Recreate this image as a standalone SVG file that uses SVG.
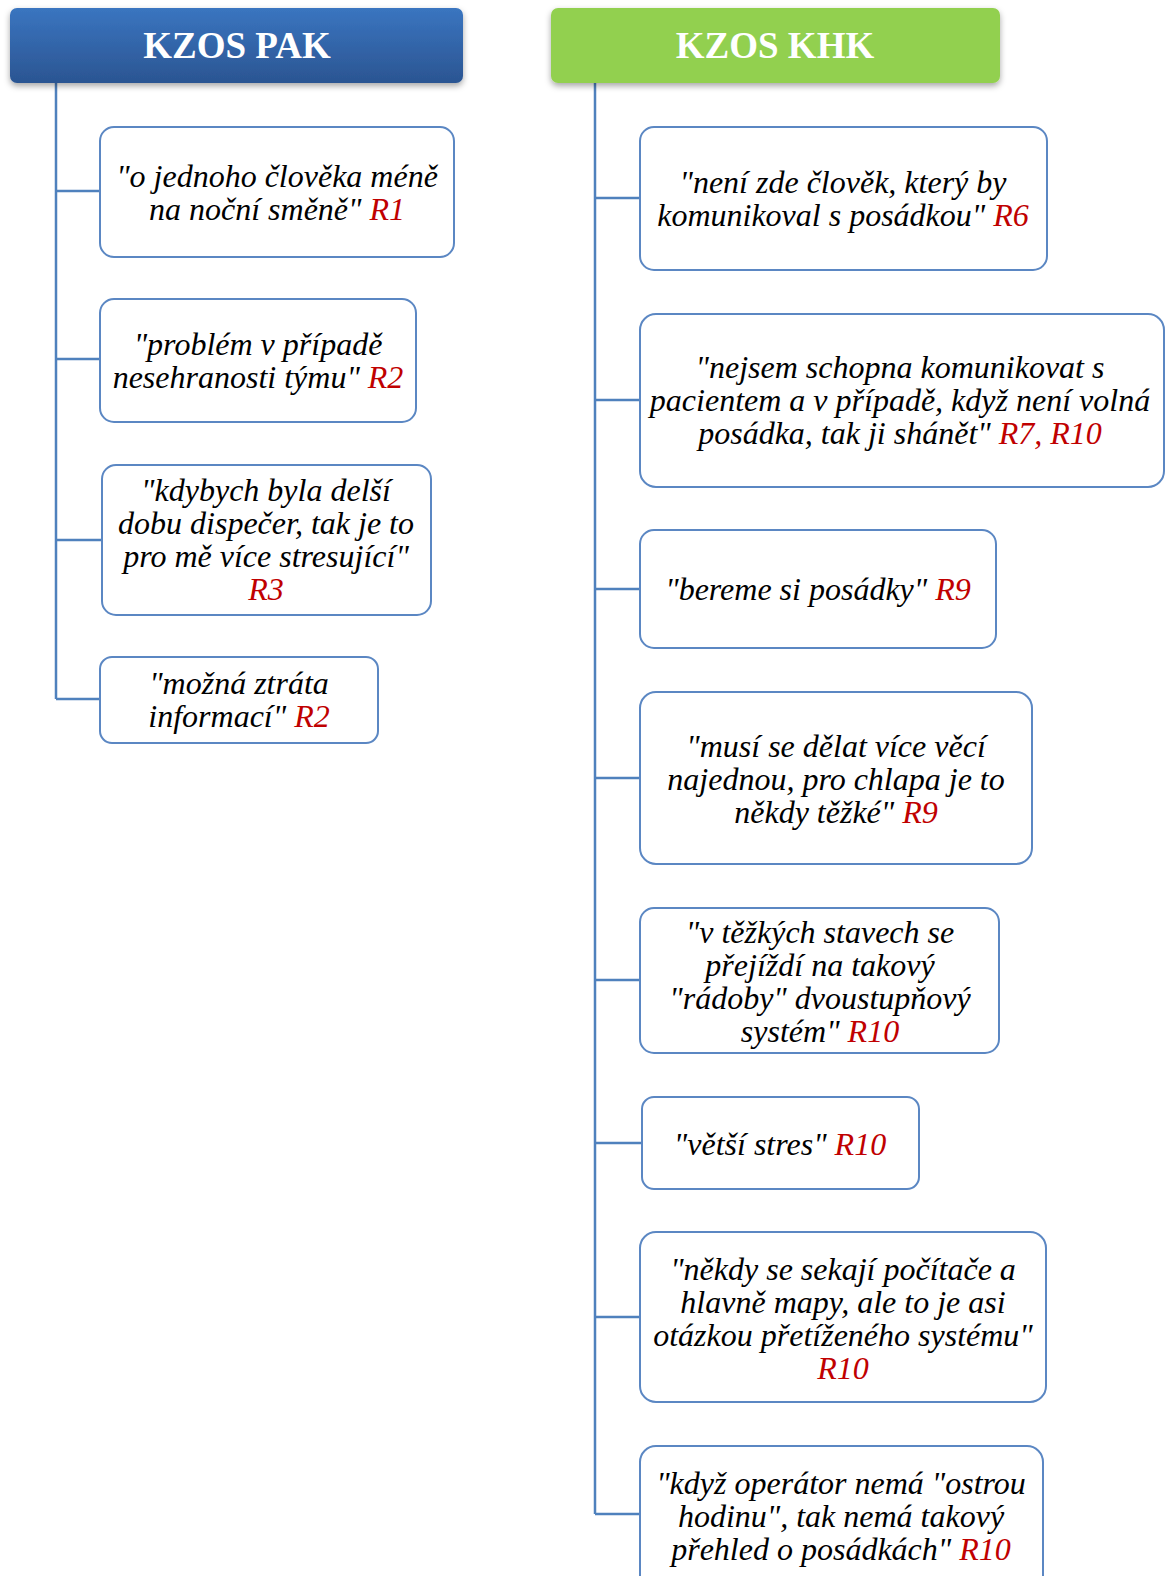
<svg xmlns="http://www.w3.org/2000/svg" width="1171" height="1576" viewBox="0 0 1171 1576">
<defs>
<linearGradient id="gBlue" x1="0" y1="0" x2="0" y2="1">
<stop offset="0" stop-color="#3a75c0"/>
<stop offset="1" stop-color="#2b5592"/>
</linearGradient>
<filter id="sh" x="-5%" y="-20%" width="110%" height="150%">
<feDropShadow dx="0" dy="3" stdDeviation="3" flood-color="#000" flood-opacity="0.35"/>
</filter>
</defs>
<style>
.hdr{font-family:"Liberation Serif","Times New Roman",serif;font-weight:bold;font-size:37px;fill:#fff;text-anchor:middle}
.box{fill:#fff;stroke:#5b87c3;stroke-width:2}
.t{font-family:"Liberation Serif","Times New Roman",serif;font-style:italic;font-size:32px;fill:#000;text-anchor:middle}
.r{fill:#c00000}
.con{fill:none;stroke:#4f81bd;stroke-width:2.5}
</style>
<rect width="1171" height="1576" fill="#fff"/>
<g id="connectors">
<path class="con" d="M56 83V699M56 191H100M56 359H100M56 540H102M56 699H100"/>
<path class="con" d="M595 83V1514M595 198H640M595 400H640M595 589H640M595 778H640M595 980H640M595 1143H642M595 1317H640M595 1514H640"/>
</g>
<g id="hdr-pak">
<rect x="10" y="8" width="453" height="75" rx="7" fill="url(#gBlue)" filter="url(#sh)"/>
<text class="hdr" x="237" y="58">KZOS PAK</text>
</g>
<g id="hdr-khk">
<rect x="551" y="8" width="449" height="75" rx="7" fill="#92d050" filter="url(#sh)"/>
<text class="hdr" x="775" y="58">KZOS KHK</text>
</g>
<g id="l1">
<rect class="box" x="100" y="127" width="354" height="130" rx="14"/>
<text class="t" x="277" y="187">"o jednoho člověka méně</text>
<text class="t" x="277" y="220">na noční směně" <tspan class="r">R1</tspan></text>
</g>
<g id="l2">
<rect class="box" x="100" y="299" width="316" height="123" rx="14"/>
<text class="t" x="258" y="355">"problém v případě</text>
<text class="t" x="258" y="388">nesehranosti týmu" <tspan class="r">R2</tspan></text>
</g>
<g id="l3">
<rect class="box" x="102" y="465" width="329" height="150" rx="14"/>
<text class="t" x="266" y="501">"kdybych byla delší</text>
<text class="t" x="266" y="534">dobu dispečer, tak je to</text>
<text class="t" x="266" y="567">pro mě více stresující"</text>
<text class="t" x="266" y="600"><tspan class="r">R3</tspan></text>
</g>
<g id="l4">
<rect class="box" x="100" y="657" width="278" height="86" rx="12"/>
<text class="t" x="239" y="694">"možná ztráta</text>
<text class="t" x="239" y="727">informací" <tspan class="r">R2</tspan></text>
</g>
<g id="r1">
<rect class="box" x="640" y="127" width="407" height="143" rx="14"/>
<text class="t" x="843" y="193">"není zde člověk, který by</text>
<text class="t" x="843" y="226">komunikoval s posádkou" <tspan class="r">R6</tspan></text>
</g>
<g id="r2">
<rect class="box" x="640" y="314" width="524" height="173" rx="16"/>
<text class="t" x="900" y="378">"nejsem schopna komunikovat s</text>
<text class="t" x="900" y="411">pacientem a v případě, když není volná</text>
<text class="t" x="900" y="444">posádka, tak ji shánět" <tspan class="r">R7, R10</tspan></text>
</g>
<g id="r3">
<rect class="box" x="640" y="530" width="356" height="118" rx="14"/>
<text class="t" x="818" y="600">"bereme si posádky" <tspan class="r">R9</tspan></text>
</g>
<g id="r4">
<rect class="box" x="640" y="692" width="392" height="172" rx="16"/>
<text class="t" x="836" y="757">"musí se dělat více věcí</text>
<text class="t" x="836" y="790">najednou, pro chlapa je to</text>
<text class="t" x="836" y="823">někdy těžké" <tspan class="r">R9</tspan></text>
</g>
<g id="r5">
<rect class="box" x="640" y="908" width="359" height="145" rx="14"/>
<text class="t" x="820" y="943">"v těžkých stavech se</text>
<text class="t" x="820" y="976">přejíždí na takový</text>
<text class="t" x="820" y="1009">"rádoby" dvoustupňový</text>
<text class="t" x="820" y="1042">systém" <tspan class="r">R10</tspan></text>
</g>
<g id="r6">
<rect class="box" x="642" y="1097" width="277" height="92" rx="12"/>
<text class="t" x="780" y="1155">"větší stres" <tspan class="r">R10</tspan></text>
</g>
<g id="r7">
<rect class="box" x="640" y="1232" width="406" height="170" rx="16"/>
<text class="t" x="843" y="1280">"někdy se sekají počítače a</text>
<text class="t" x="843" y="1313">hlavně mapy, ale to je asi</text>
<text class="t" x="843" y="1346">otázkou přetíženého systému"</text>
<text class="t" x="843" y="1379"><tspan class="r">R10</tspan></text>
</g>
<g id="r8">
<rect class="box" x="640" y="1446" width="403" height="150" rx="16"/>
<text class="t" x="841" y="1494">"když operátor nemá "ostrou</text>
<text class="t" x="841" y="1527">hodinu", tak nemá takový</text>
<text class="t" x="841" y="1560">přehled o posádkách" <tspan class="r">R10</tspan></text>
</g>
</svg>
